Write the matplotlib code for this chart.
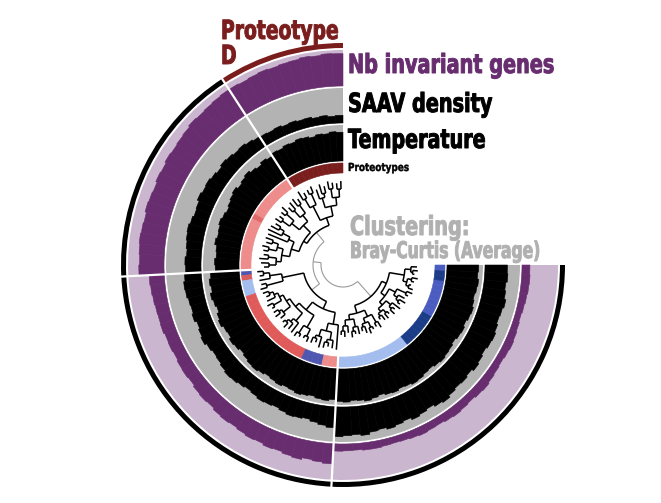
import numpy as np
import matplotlib

matplotlib.use("Agg")
import matplotlib.pyplot as plt
from matplotlib import patheffects
from matplotlib.transforms import Affine2D

# ---- data -------------------------------------------------------------
# per-sample layer values (fraction of ring thickness), samples ordered
# counter-clockwise from 12 o'clock
nb_invariant = [
    0.90, 0.91, 0.88, 0.90, 0.87, 0.86, 0.84, 0.86, 0.84, 0.82, 0.84,
    0.84, 0.82, 0.80, 0.78, 0.80, 0.76, 0.74, 0.72, 0.74, 0.70, 0.72, 0.68, 0.70, 0.72, 0.68, 0.70, 0.72, 0.70, 0.68, 0.70,
    0.42, 0.40, 0.38, 0.36, 0.35, 0.36, 0.33, 0.34, 0.32, 0.35, 0.36, 0.34, 0.38, 0.40, 0.38, 0.42, 0.44, 0.42, 0.45, 0.48,
    0.46, 0.50, 0.48, 0.52, 0.55, 0.50, 0.53, 0.56,
    0.20, 0.19, 0.18, 0.20, 0.20, 0.18, 0.17, 0.18, 0.20, 0.22, 0.20, 0.19, 0.22, 0.24, 0.22, 0.20, 0.23, 0.25, 0.22, 0.20,
    0.18, 0.20, 0.22, 0.20, 0.18, 0.16, 0.18, 0.20, 0.22, 0.23, 0.22,
]
saav_density = [
    0.22, 0.20, 0.24, 0.22, 0.26, 0.25, 0.28, 0.26, 0.30, 0.28, 0.30,
    0.32, 0.36, 0.40, 0.38, 0.42, 0.45, 0.40, 0.44, 0.48, 0.46, 0.50, 0.44, 0.42, 0.46, 0.50, 0.48, 0.45, 0.42, 0.46, 0.44,
    0.48, 0.52, 0.50, 0.46, 0.44, 0.48, 0.42, 0.46, 0.50, 0.44, 0.40, 0.42, 0.46, 0.50, 0.48, 0.44, 0.40, 0.43, 0.47, 0.45,
    0.42, 0.46, 0.50, 0.48, 0.45, 0.50, 0.55, 0.60,
    0.85, 0.82, 0.80, 0.84, 0.78, 0.75, 0.80, 0.76, 0.72, 0.78, 0.74, 0.70, 0.76, 0.80, 0.74, 0.70, 0.72, 0.68, 0.74, 0.70,
    0.66, 0.70, 0.72, 0.68, 0.64, 0.66, 0.70, 0.65, 0.62, 0.66, 0.64,
]
temperature = [
    0.80, 0.82, 0.78, 0.80, 0.76, 0.80, 0.82, 0.78, 0.80, 0.76, 0.78,
    0.72, 0.76, 0.70, 0.74, 0.80, 0.76, 0.72, 0.78, 0.74, 0.70, 0.66, 0.70, 0.74, 0.70, 0.68, 0.72, 0.66, 0.64, 0.68, 0.66,
    0.80, 0.85, 0.82, 0.88, 0.84, 0.80, 0.86, 0.90, 0.84, 0.82, 0.88, 0.85, 0.80, 0.84, 0.88, 0.90, 0.86, 0.82, 0.85, 0.88,
    0.84, 0.86, 0.90, 0.87, 0.84, 0.88, 0.90, 0.86,
    0.90, 0.92, 0.88, 0.90, 0.94, 0.90, 0.86, 0.90, 0.92, 0.88, 0.90, 0.94, 0.92, 0.88, 0.86, 0.90, 0.93, 0.90, 0.88, 0.84,
    0.88, 0.90, 0.86, 0.90, 0.92, 0.88, 0.85, 0.88, 0.90, 0.86, 0.88,
]
proteotype = (
    ["D"] * 11
    + ["C"] * 9 + ["C2"] + ["C"] * 10
    + ["B"] + ["A2"] + ["E"] * 3 + ["A"] * 16 + ["B"] * 4 + ["C"] * 3
    + ["E"] * 14 + ["F"] * 7 + ["G"] * 7 + ["F"] * 2 + ["G"]
)
# sample groups (radial separators / outer arc), count of samples each
group_sizes = [11, 20, 28, 31]
group_arc = ["D", None, None, None]

# clustering tree: leaves = tip radius, "(...):r" = node radius
TREE = (
    "(((((((84,82):76,(83,85):77):68,((81,84):74,80):70):60,((85,83):78,(82,86):76):66):50,"
    "((((80,83):74,(82,79):73):64,((84,81):76,(80,82):75):66):56,"
    "((((79,82):73,83):68,81):60,(((82,80):74,(83,81):76):68,((80,84):75,(82,79):74):67):62):54):46):42,"
    "((((86,84):80,85):74,(84,86):79):62,"
    "(((((((85,83):79,84):75,(86,83):80):71,((84,85):79,82):76):67,(((83,86):80,84):77,85):73):63,"
    "((86,84):81,(83,85):80):72):58,((((84,82):78,86):75,((85,83):79,84):76):68,85):60):48):40):30,"
    "(((((70,72):66,68):61,((73,70):67,71):63):55,(((69,72):65,(74,71):68):62,(70,73):66):57):50,"
    "(((((66,69):63,(70,67):64):60,((71,68):65,72):62):56,(((69,73):66,70):63,(72,75):69):59):52,"
    "(((74,71):69,(73,76):70):66,((72,75):70,74):68):62):47):42):22"
)

# ---- styling ----------------------------------------------------------
PROT_COLORS = {
    "D": "#7a1d1d", "C": "#ee8c8c", "C2": "#e06a6a", "A": "#e05a5a",
    "A2": "#d95c5c", "B": "#4f56b0", "E": "#a3bdee", "F": "#1b3c87", "G": "#4a5cc0",
}
PURPLE, LILAC, GRAY = "#672d6f", "#cbb6cf", "#b3b3b3"
DARK_RED = "#7a1d1d"

W, H = 661, 503
CX, CY = 343, 265          # centre in pixels (from top-left)
RMAX = 224

rings = {                   # inner, outer radius
    "prot": (92, 102),
    "temp": (104, 140),
    "saav": (142, 177),
    "nb": (179, 215),
    "arc": (217, 222),
}


class Condensed(patheffects.AbstractPathEffect):
    """Squeeze glyphs horizontally and thicken them a little
    (no condensed black face is installed)."""

    def __init__(self, sx=0.74, lw=0.7):
        super().__init__()
        self.sx = sx
        self.lw = lw

    def draw_path(self, renderer, gc, tpath, affine, rgbFace=None):
        gc0 = renderer.new_gc()
        gc0.copy_properties(gc)
        gc0.set_linewidth(self.lw)
        gc0.set_joinstyle("round")
        if rgbFace is not None:
            gc0.set_foreground(rgbFace)
        renderer.draw_path(gc0, tpath, Affine2D().scale(self.sx, 1.0) + affine, rgbFace)
        gc0.restore()


def parse_tree(s):
    pos = 0

    def read_num():
        nonlocal pos
        start = pos
        while pos < len(s) and s[pos] not in ",)":
            pos += 1
        return float(s[start:pos])

    def node():
        nonlocal pos
        if s[pos] == "(":
            pos += 1
            kids = [node()]
            while s[pos] == ",":
                pos += 1
                kids.append(node())
            pos += 2  # ")" and ":"
            return {"r": read_num(), "kids": kids}
        return {"r": read_num(), "kids": []}

    return node()


def main():
    n = len(nb_invariant)
    step = np.deg2rad(270.0 / n)
    theta = np.deg2rad(90.0) + (np.arange(n) + 0.5) * step

    fig = plt.figure(figsize=(W / 100, H / 100), dpi=100, facecolor="white")
    ax = fig.add_axes(
        [(CX - RMAX) / W, (H - CY - RMAX) / H, 2 * RMAX / W, 2 * RMAX / H],
        projection="polar",
    )
    ax.set_ylim(0, RMAX)
    ax.set_axis_off()

    full_c = np.deg2rad(225.0)
    full_w = np.deg2rad(270.0)

    # bar layers
    for key, vals, bg, fg in [
        ("temp", temperature, GRAY, "black"),
        ("saav", saav_density, GRAY, "black"),
        ("nb", nb_invariant, LILAC, PURPLE),
    ]:
        r0, r1 = rings[key]
        ax.bar(full_c, r1 - r0, width=full_w, bottom=r0, color=bg, linewidth=0)
        ax.bar(theta, np.array(vals) * (r1 - r0), width=step, bottom=r0,
               color=fg, edgecolor=fg, linewidth=0.4)

    # proteotype ring
    r0, r1 = rings["prot"]
    cols = [PROT_COLORS[p] for p in proteotype]
    ax.bar(theta, r1 - r0, width=step, bottom=r0, color=cols, edgecolor=cols, linewidth=0.4)

    # outer group arcs and separators
    r0, r1 = rings["arc"]
    edges = np.deg2rad(90.0) + np.cumsum([0] + group_sizes) * step
    for a, b, g in zip(edges[:-1], edges[1:], group_arc):
        c = DARK_RED if g == "D" else "black"
        ax.bar((a + b) / 2, r1 - r0, width=b - a, bottom=r0, color=c, linewidth=0)
    for e in edges[1:-1]:
        ax.plot([e, e], [rings["prot"][0] - 1, RMAX], color="white", lw=1.6)

    # tree
    tree = parse_tree(TREE)
    counter = [0]

    def place(nd):
        if not nd["kids"]:
            nd["t"] = theta[counter[0]]
            counter[0] += 1
        else:
            for k in nd["kids"]:
                place(k)
            nd["t"] = (nd["kids"][0]["t"] + nd["kids"][-1]["t"]) / 2

    def draw(nd):
        if not nd["kids"]:
            return
        inner = nd["r"] < 36
        col = "#9a9a9a" if inner else "black"
        lw = 0.8 if inner else 1.1
        ts = np.linspace(nd["kids"][0]["t"], nd["kids"][-1]["t"], 60)
        ax.plot(ts, np.full_like(ts, nd["r"]), color=col, lw=lw, solid_capstyle="butt")
        for k in nd["kids"]:
            ax.plot([k["t"], k["t"]], [nd["r"], k["r"]], color=col, lw=lw, solid_capstyle="butt")
            draw(k)

    place(tree)
    draw(tree)

    # labels
    def txt(x, y, s, size, color, sx=0.74, lw=0.7):
        fig.text(x / W, 1 - y / H, s, fontsize=size, color=color, family="DejaVu Sans",
                 fontweight="bold", ha="left", va="baseline",
                 path_effects=[Condensed(sx, lw)])

    txt(221, 39, "Proteotype", 19, DARK_RED, 0.71)
    txt(221, 64, "D", 19, DARK_RED, 0.71)
    txt(348, 73, "Nb invariant genes", 19, PURPLE, 0.73)
    txt(348, 112, "SAAV density", 19, "black", 0.73)
    txt(348, 148, "Temperature", 19, "black", 0.725)
    txt(348, 171, "Proteotypes", 8, "black", 0.8, 0.3)
    txt(350, 235, "Clustering:", 19, "#b0b0b0", 0.73)
    txt(350, 258, "Bray-Curtis (Average)", 16.5, "#b0b0b0", 0.68)

    fig.savefig("out.png", dpi=100, facecolor="white")
    plt.close(fig)


if __name__ == "__main__":
    main()
